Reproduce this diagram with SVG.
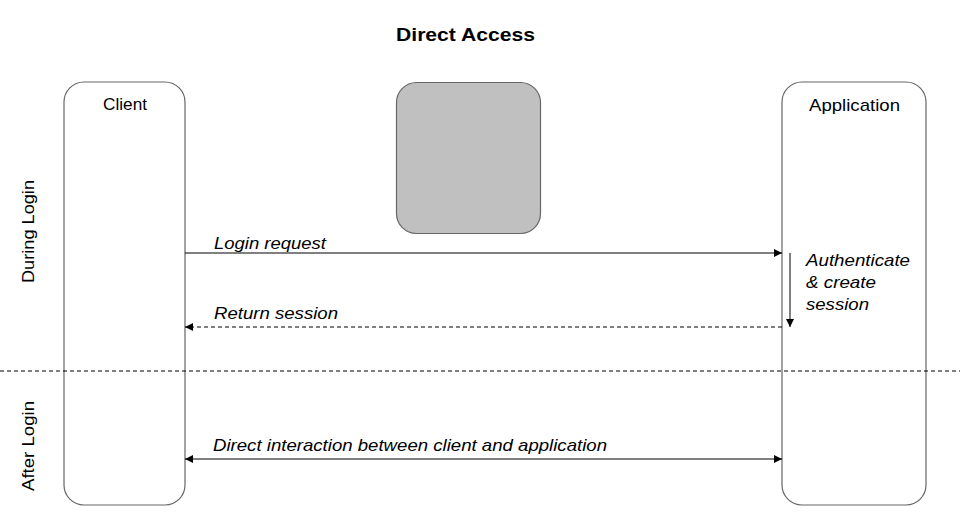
<svg xmlns="http://www.w3.org/2000/svg" width="960" height="529" viewBox="0 0 960 529">
<defs>
<style>
text{font-family:"Liberation Sans",Arial,sans-serif;fill:#000}
.box{fill:#fff;stroke:#666;stroke-width:1.2}
.lbl{font-size:17px;font-style:italic}
.hdr{font-size:17px}
.ln{stroke:#000;stroke-width:1;fill:none}
.dash{stroke:#000;stroke-width:1;fill:none;stroke-dasharray:4,3}
</style>
<marker id="ah" viewBox="0 0 10 10" refX="10" refY="5" markerWidth="8" markerHeight="8" orient="auto-start-reverse" markerUnits="userSpaceOnUse"><path d="M0,0 L10,5 L0,10 z" fill="#000"/></marker>
</defs>
<rect width="960" height="529" fill="#fff"/>
<text x="396" y="41" font-size="19" font-weight="bold" textLength="139" lengthAdjust="spacingAndGlyphs">Direct Access</text>
<text transform="translate(34,283) rotate(-90)" font-size="17" textLength="103" lengthAdjust="spacingAndGlyphs">During Login</text>
<text transform="translate(34,491) rotate(-90)" font-size="17" textLength="90" lengthAdjust="spacingAndGlyphs">After Login</text>
<g id="client"><rect class="box" x="64" y="82" width="121" height="423" rx="20"/><text class="hdr" x="103" y="110" textLength="44" lengthAdjust="spacingAndGlyphs">Client</text></g>
<g id="blank"><rect x="396.5" y="82.5" width="144" height="151" rx="20" fill="#c0c0c0" stroke="#666" stroke-width="1.2"/></g>
<g id="application"><rect class="box" x="782" y="82" width="144" height="423" rx="20"/><text class="hdr" x="809" y="111" textLength="91" lengthAdjust="spacingAndGlyphs">Application</text></g>
<g id="connectors">
<line class="dash" x1="0" y1="371" x2="960" y2="371"/>
<line class="ln" x1="185" y1="253" x2="782" y2="253" marker-end="url(#ah)"/>
<line class="dash" x1="782" y1="327" x2="185" y2="327" marker-end="url(#ah)"/>
<line class="ln" x1="790" y1="253" x2="790" y2="327" marker-end="url(#ah)"/>
<line class="ln" x1="185" y1="459" x2="782" y2="459" marker-start="url(#ah)" marker-end="url(#ah)"/>
<text class="lbl" x="214" y="249" textLength="112" lengthAdjust="spacingAndGlyphs">Login request</text>
<text class="lbl" x="214" y="319" textLength="124" lengthAdjust="spacingAndGlyphs">Return session</text>
<text class="lbl" x="213" y="451" textLength="394" lengthAdjust="spacingAndGlyphs">Direct interaction between client and application</text>
<text class="lbl" x="806" y="266" textLength="104" lengthAdjust="spacingAndGlyphs">Authenticate</text>
<text class="lbl" x="806" y="288" textLength="70" lengthAdjust="spacingAndGlyphs">&amp; create</text>
<text class="lbl" x="806" y="310" textLength="63" lengthAdjust="spacingAndGlyphs">session</text>
</g>
</svg>
